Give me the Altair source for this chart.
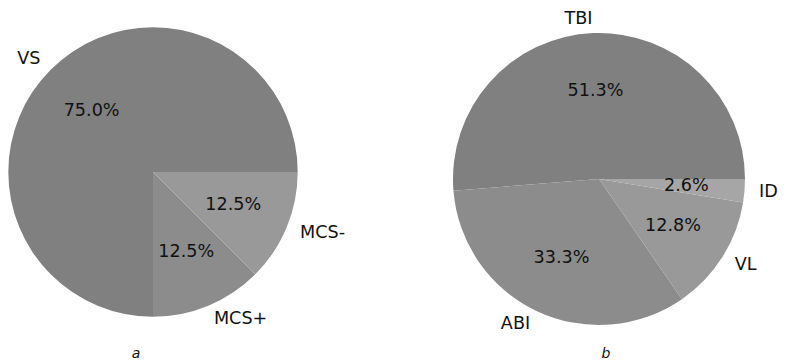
import math
import altair as alt
import pandas as pd

# ---- data ----
pie_a_labels = ["VS", "MCS+", "MCS-"]
pie_a_counts = [6, 1, 1]
pie_a_colors = ["#808080", "#8c8c8c", "#999999"]

pie_b_labels = ["TBI", "ABI", "VL", "ID"]
pie_b_counts = [20, 13, 5, 1]
pie_b_colors = ["#808080", "#8c8c8c", "#999999", "#a6a6a6"]

captions = ["a", "b"]

FONT = "DejaVu Sans"
FS = 17.6
theta_scale = alt.Scale(domain=[0, 1], range=[math.pi / 2, math.pi / 2 - 2 * math.pi])


def pie(labels, counts, colors, cx, cy, r):
    df = pd.DataFrame({"label": labels, "count": counts, "color": colors,
                       "order": list(range(len(labels)))})
    base = (
        alt.Chart(df)
        .transform_joinaggregate(total="sum(count)")
        .transform_window(cum="sum(count)", sort=[alt.SortField("order")], frame=[None, 0])
        .transform_calculate(
            start="(datum.cum - datum.count) / datum.total",
            end="datum.cum / datum.total",
            mid="(datum.cum - datum.count / 2) / datum.total",
            pct="format(100 * datum.count / datum.total, '.1f') + '%'",
            side="cos(2 * PI * (datum.cum - datum.count / 2) / datum.total)",
        )
    )
    pos = dict(x=alt.value(cx), y=alt.value(cy))
    arcs = base.mark_arc(radius=r).encode(
        theta=alt.Theta("end:Q", scale=theta_scale, stack=None),
        theta2="start:Q",
        color=alt.Color("color:N", scale=None),
        **pos,
    )
    pct = base.mark_text(radius=0.6 * r, align="center", baseline="middle",
                         font=FONT, fontSize=FS, color="#111111").encode(
        theta=alt.Theta("mid:Q", scale=theta_scale, stack=None),
        text="pct:N",
        **pos,
    )
    lab_l = base.transform_filter("datum.side > 0").mark_text(
        radius=1.1 * r, align="left", baseline="middle", font=FONT, fontSize=FS,
        color="#111111").encode(
        theta=alt.Theta("mid:Q", scale=theta_scale, stack=None),
        text="label:N",
        **pos,
    )
    lab_r = base.transform_filter("datum.side <= 0").mark_text(
        radius=1.1 * r, align="right", baseline="middle", font=FONT, fontSize=FS,
        color="#111111").encode(
        theta=alt.Theta("mid:Q", scale=theta_scale, stack=None),
        text="label:N",
        **pos,
    )
    return [arcs, pct, lab_l, lab_r]


cap_df = pd.DataFrame({"cap": captions})
cap_a = alt.Chart(cap_df).transform_filter("datum.cap == 'a'").mark_text(
    font=FONT, fontSize=14, fontStyle="italic", align="center", baseline="alphabetic",
    color="#111111").encode(text="cap:N", x=alt.value(128), y=alt.value(350))
cap_b = alt.Chart(cap_df).transform_filter("datum.cap == 'b'").mark_text(
    font=FONT, fontSize=14, fontStyle="italic", align="center", baseline="alphabetic",
    color="#111111").encode(text="cap:N", x=alt.value(598), y=alt.value(350))

layers = pie(pie_a_labels, pie_a_counts, pie_a_colors, 145, 164, 144.7) + \
    pie(pie_b_labels, pie_b_counts, pie_b_colors, 591, 171, 146) + [cap_a, cap_b]

chart = alt.layer(*layers).properties(
    width=771, height=354, padding=0, autosize=alt.AutoSizeParams(type="none"),
    background="white",
).configure_view(stroke=None)

chart.save("out.html", embed_options={"renderer": "svg", "actions": False})
